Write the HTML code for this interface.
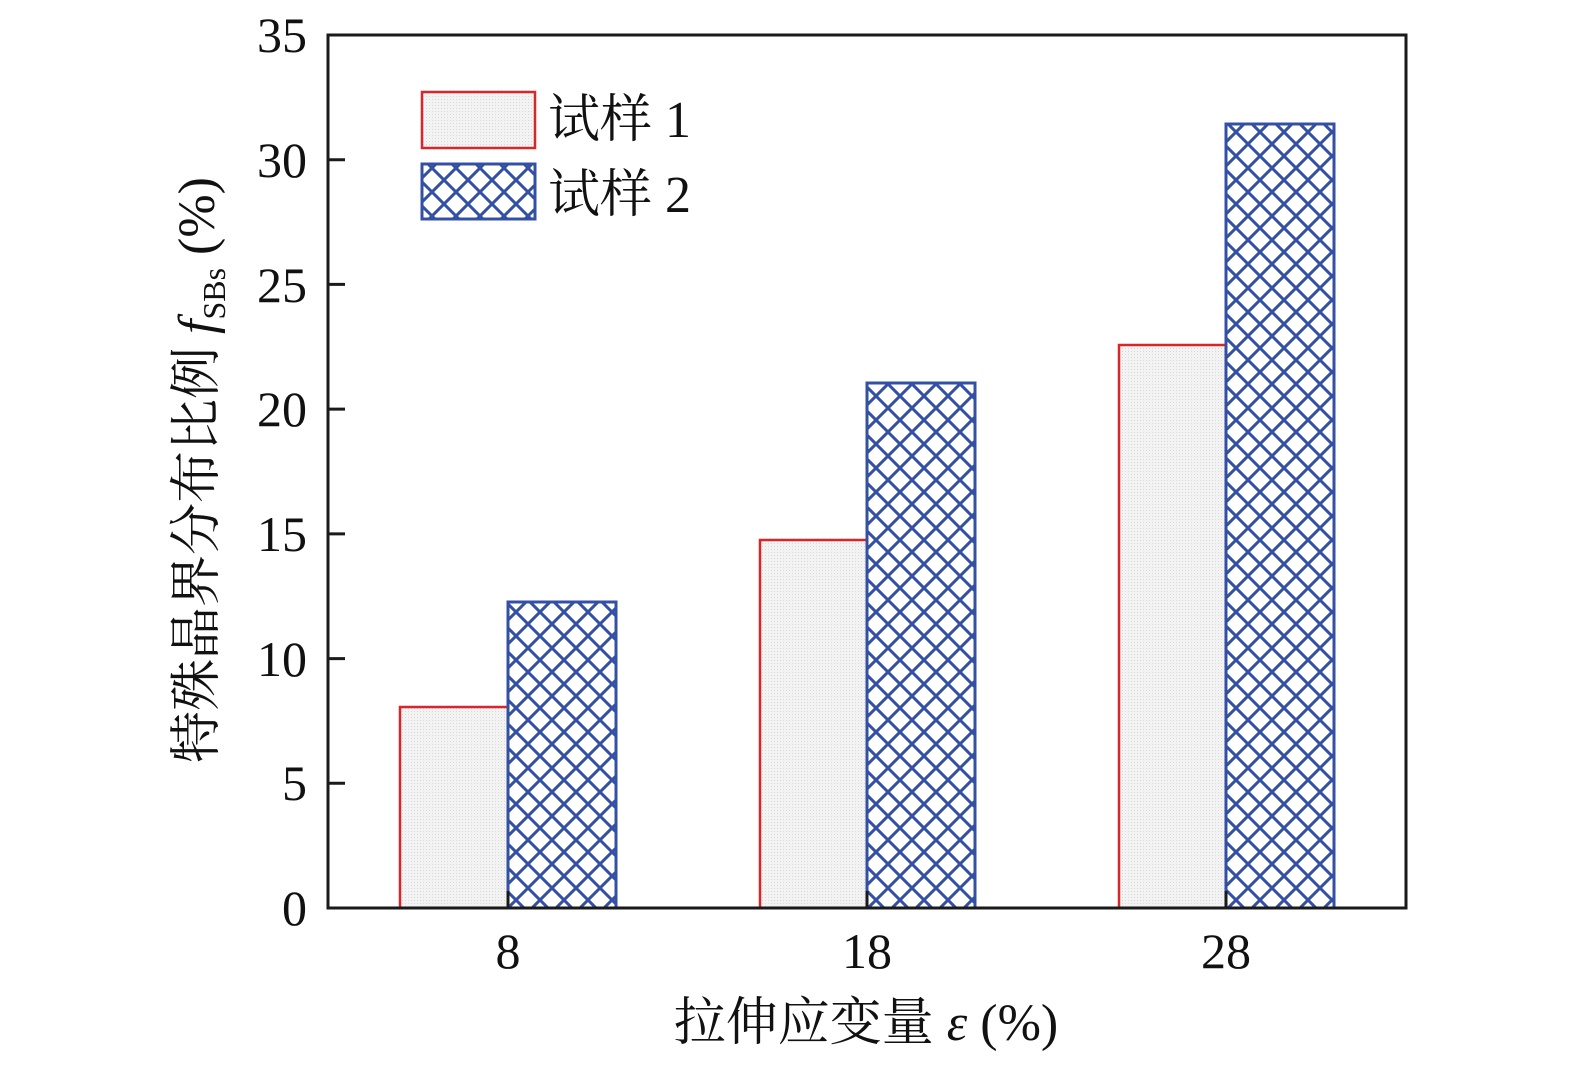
<!DOCTYPE html>
<html><head><meta charset="utf-8"><style>
html,body{margin:0;padding:0;background:#fff;}
svg{display:block;}
text{font-family:"Liberation Serif","Noto Serif CJK SC",serif;fill:#111;}
</style></head><body>
<svg width="1575" height="1065" viewBox="0 0 1575 1065" xmlns="http://www.w3.org/2000/svg">
<defs>
<pattern id="hx" patternUnits="userSpaceOnUse" width="24" height="24" x="0" y="0">
<path d="M-6,-6 L30,30 M30,-6 L-6,30" stroke="#3450a5" stroke-width="3" fill="none"/>
</pattern>
<pattern id="dt" patternUnits="userSpaceOnUse" width="3" height="3">
<rect width="3" height="3" fill="#f3f3f3"/>
<rect width="1" height="1" fill="#d8d8d8"/>
</pattern>
</defs>
<g>
<rect x="399" y="707" width="108" height="201" fill="url(#dt)"/>
<path d="M400,908 V707 H507" stroke="#d9262b" stroke-width="2.5" fill="none"/>
<rect x="508" y="602" width="108" height="306" fill="url(#hx)" stroke="#3450a5" stroke-width="3"/>

<rect x="759" y="540" width="107" height="368" fill="url(#dt)"/>
<path d="M760,908 V540 H866" stroke="#d9262b" stroke-width="2.5" fill="none"/>
<rect x="867" y="383" width="108" height="525" fill="url(#hx)" stroke="#3450a5" stroke-width="3"/>

<rect x="1118" y="345" width="107" height="563" fill="url(#dt)"/>
<path d="M1119,908 V345 H1225" stroke="#d9262b" stroke-width="2.5" fill="none"/>
<rect x="1226" y="124" width="108" height="784" fill="url(#hx)" stroke="#3450a5" stroke-width="3"/>
</g>
<rect x="328" y="35" width="1078" height="873" fill="none" stroke="#1a1a1a" stroke-width="3"/>
<g stroke="#1a1a1a" stroke-width="3">
<line x1="328" y1="783.3" x2="345" y2="783.3"/>
<line x1="328" y1="658.6" x2="345" y2="658.6"/>
<line x1="328" y1="533.9" x2="345" y2="533.9"/>
<line x1="328" y1="409.1" x2="345" y2="409.1"/>
<line x1="328" y1="284.4" x2="345" y2="284.4"/>
<line x1="328" y1="159.7" x2="345" y2="159.7"/>
<line x1="508" y1="908" x2="508" y2="891"/>
<line x1="867" y1="908" x2="867" y2="891"/>
<line x1="1226" y1="908" x2="1226" y2="891"/>
</g>
<g font-size="50" text-anchor="end">
<text x="307" y="925">0</text>
<text x="307" y="800">5</text>
<text x="307" y="676">10</text>
<text x="307" y="551">15</text>
<text x="307" y="426">20</text>
<text x="307" y="302">25</text>
<text x="307" y="177">30</text>
<text x="307" y="52">35</text>
</g>
<g font-size="50" text-anchor="middle">
<text x="508" y="968">8</text>
<text x="867" y="968">18</text>
<text x="1226" y="968">28</text>
</g>
<text x="866" y="1040" font-size="52" text-anchor="middle">拉伸应变量 <tspan font-style="italic">ε</tspan> (%)</text>
<text transform="translate(214,470) rotate(-90)" font-size="52" text-anchor="middle">特殊晶界分布比例 <tspan font-style="italic">f</tspan><tspan font-size="32" dy="11">SBs</tspan><tspan dy="-11"> (%)</tspan></text>
<rect x="422" y="92" width="113" height="56" fill="url(#dt)" stroke="#d9262b" stroke-width="2.5"/>
<rect x="422" y="164" width="113" height="55" fill="url(#hx)" stroke="#3450a5" stroke-width="3"/>
<text x="548" y="137" font-size="52">试样 1</text>
<text x="548" y="212" font-size="52">试样 2</text>
</svg>
</body></html>
